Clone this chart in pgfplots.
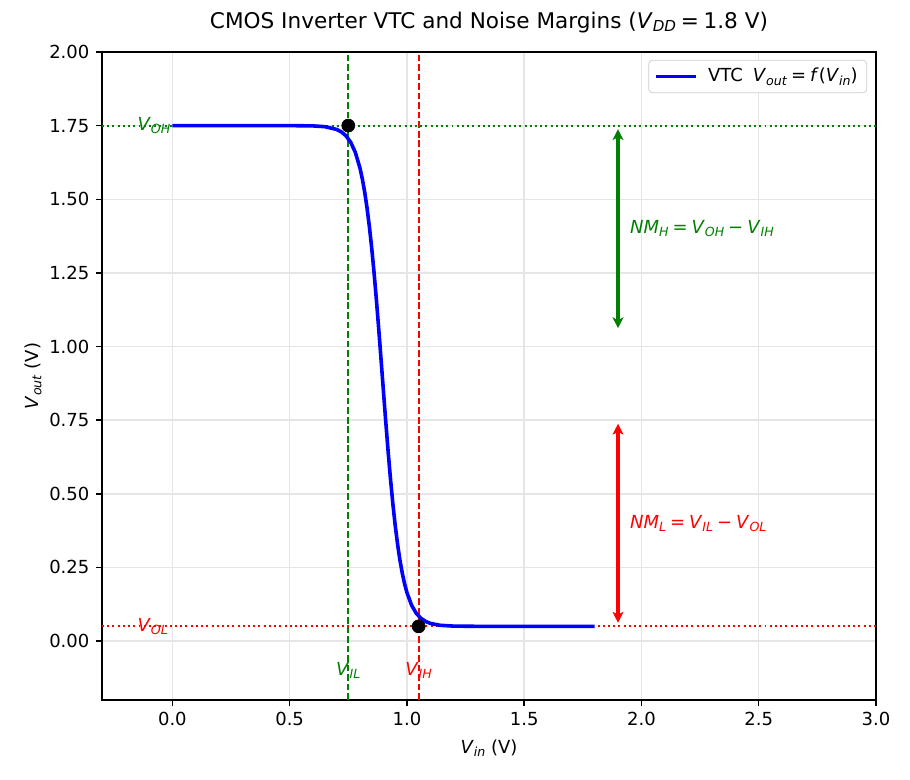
\documentclass[border=0pt]{standalone}
\usepackage{fontspec}
\setmainfont{DejaVu Sans}
\usepackage{pgfplots}
\pgfplotsset{compat=1.18}
\usepackage{pgfplotstable}
\usetikzlibrary{arrows.meta}

\definecolor{mplgreen}{HTML}{008000}
\definecolor{mplred}{HTML}{FF0000}
\definecolor{mplblue}{HTML}{0000FF}

% italic subscript scaled to the surrounding font size
\makeatletter
\newcommand\sub[1]{\raisebox{-0.32ex}{\fontsize{\fpeval{0.7*\f@size}}{0}\selectfont\textit{#1}}}
\makeatother
\newcommand\V[1]{\textit{V}\sub{#1}}
\newcommand\rel[1]{\hspace{0.22em}#1\hspace{0.22em}}

% inverter voltage transfer characteristic
\pgfplotstableread{
vin vout
0.00 1.7500
0.30 1.7500
0.50 1.7499
0.60 1.7489
0.65 1.7463
0.70 1.7371
0.72 1.7289
0.74 1.7154
0.76 1.6938
0.78 1.6592
0.80 1.6053
0.81 1.5686
0.82 1.5240
0.83 1.4703
0.84 1.4069
0.85 1.3334
0.86 1.2498
0.87 1.1573
0.88 1.0575
0.89 0.9531
0.90 0.8469
0.91 0.7425
0.92 0.6427
0.93 0.5502
0.94 0.4666
0.95 0.3931
0.96 0.3297
0.97 0.2760
0.98 0.2314
0.99 0.1947
1.00 0.1648
1.02 0.1215
1.04 0.0941
1.06 0.0770
1.08 0.0665
1.10 0.0601
1.14 0.0537
1.20 0.0508
1.30 0.0501
1.50 0.0500
1.80 0.0500
}\vtc

\tikzset{nmarrow/.style={line width=2pt,
  {Stealth[length=6pt,width=6pt,inset=1.5pt]}-{Stealth[length=6pt,width=6pt,inset=1.5pt]},
  shorten <=2pt, shorten >=2pt}}

\begin{document}
\begin{tikzpicture}
\begin{axis}[
  name=ax,
  scale only axis, width=5.954in, height=4.985in,
  xmin=-0.3, xmax=3.0, ymin=-0.2, ymax=2.0,
  xtick={0,0.5,1,1.5,2,2.5,3},
  ytick={0,0.25,0.5,0.75,1,1.25,1.5,1.75,2},
  xtick pos=lower, ytick pos=left,
  tick align=outside, major tick length=3.5pt,
  every tick/.style={black, line width=0.8pt},
  axis line style={line width=0.8pt},
  /pgf/number format/assume math mode=true,
  xticklabel style={/pgf/number format/.cd, fixed, fixed zerofill, precision=1},
  yticklabel style={/pgf/number format/.cd, fixed, fixed zerofill, precision=2},
  tick label style={font=\fontsize{10}{12}\selectfont},
  grid=major, major grid style={line width=0.8pt, color=black!10},
  title={CMOS Inverter VTC and Noise Margins (\V{DD}\rel{=}1.8 V)},
  title style={font=\fontsize{12}{14}\selectfont, at={(axis description cs:0.5,1.0293)}, anchor=center},
  xlabel={\V{in} (V)}, ylabel={\V{out} (V)},
  label style={font=\fontsize{10}{12}\selectfont},
  xlabel style={at={(axis description cs:0.5,-0.0741)}, anchor=center},
  ylabel style={at={(axis description cs:-0.0891,0.5)}, anchor=center},
  legend style={at={(1,1)}, anchor=north east, xshift=-5pt, yshift=-4.4pt,
    draw=black!20, rounded corners=2pt, fill=white,
    font=\fontsize{10}{12}\selectfont, inner xsep=3pt, inner ysep=2.5pt,
    cells={anchor=west}},
  legend image code/.code={\draw[#1] (0pt,0pt) -- (22pt,0pt);},
]
% reference levels
\addplot[mplgreen, line width=1.1pt, dash pattern=on 1.1pt off 1.8pt, forget plot]
  coordinates {(-0.3,1.75) (3.0,1.75)};
\addplot[mplred, line width=1.1pt, dash pattern=on 1.1pt off 1.8pt, forget plot]
  coordinates {(-0.3,0.05) (3.0,0.05)};
\addplot[mplgreen, line width=1pt, dash pattern=on 3.7pt off 1.6pt, forget plot]
  coordinates {(0.75,-0.2) (0.75,2.0)};
\addplot[mplred, line width=1pt, dash pattern=on 3.7pt off 1.6pt, forget plot]
  coordinates {(1.05,-0.2) (1.05,2.0)};

% transfer curve
\addplot[mplblue, line width=2pt, line join=round] table[x=vin, y=vout] {\vtc};
\addlegendentry{\hspace{4pt}VTC\hspace{0.55em}\V{out}\rel{=}\textit{f}(\V{in})}

% unity-gain points
\addplot[only marks, mark=*, mark size=3.6pt, black, forget plot]
  coordinates {(0.75,1.75) (1.05,0.05)};

% noise margins
\addplot[mplgreen, nmarrow, forget plot] coordinates {(1.9,1.05) (1.9,1.75)};
\addplot[mplred, nmarrow, forget plot] coordinates {(1.9,0.05) (1.9,0.75)};

\node[mplgreen, anchor=west, inner sep=0pt, font=\fontsize{10}{12}\selectfont]
  at (axis cs:1.95,1.40) {\textit{NM}\sub{H}\rel{=}\V{OH}\rel{−}\V{IH}};
\node[mplred, anchor=west, inner sep=0pt, font=\fontsize{10}{12}\selectfont]
  at (axis cs:1.95,0.40) {\textit{NM}\sub{L}\rel{=}\V{IL}\rel{−}\V{OL}};

\node[mplgreen, anchor=west, inner sep=0pt, font=\fontsize{10}{12}\selectfont]
  at (axis cs:-0.15,1.75) {\V{OH}};
\node[mplred, anchor=west, inner sep=0pt, font=\fontsize{10}{12}\selectfont]
  at (axis cs:-0.15,0.05) {\V{OL}};
\node[mplgreen, inner sep=0pt, font=\fontsize{10}{12}\selectfont]
  at (axis cs:0.75,-0.10) {\V{IL}};
\node[mplred, inner sep=0pt, font=\fontsize{10}{12}\selectfont]
  at (axis cs:1.05,-0.10) {\V{IH}};
\end{axis}
\path (ax.south west) ++(-0.7846in,-0.6154in) rectangle ++(7in,6in);
\end{tikzpicture}
\end{document}
